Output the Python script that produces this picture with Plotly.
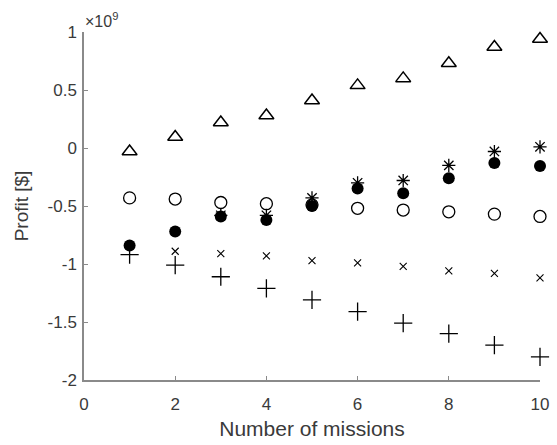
import plotly.graph_objects as go

missions = [1, 2, 3, 4, 5, 6, 7, 8, 9, 10]
# profit values in units of 1e9 $ (None: point hidden in the reference)
triangle = [-0.03, 0.095, 0.22, 0.28, 0.41, 0.54, 0.60, 0.73, 0.87, 0.94]
open_circle = [-0.43, -0.44, -0.47, -0.48, -0.49, -0.52, -0.535, -0.55, -0.57, -0.59]
x_mark = [None, -0.89, -0.91, -0.93, -0.97, -0.99, -1.02, -1.06, -1.08, -1.12]
filled_circle = [-0.84, -0.72, -0.59, -0.62, -0.50, -0.35, -0.39, -0.26, -0.13, -0.155]
asterisk = [None, None, -0.58, -0.58, -0.43, -0.30, -0.28, -0.15, -0.03, 0.01]
plus = [-0.92, -1.01, -1.11, -1.21, -1.31, -1.41, -1.51, -1.60, -1.70, -1.80]

yticks = [-2, -1.5, -1, -0.5, 0, 0.5, 1]
yticktext = ["-2", "-1.5", "-1", "-0.5", "0", "0.5", "1"]
xticks = [0, 2, 4, 6, 8, 10]

fig = go.Figure()
def add(y, symbol, size, lw=1.2):
    fig.add_trace(go.Scatter(x=missions, y=y, mode="markers", cliponaxis=False,
                             marker=dict(symbol=symbol, size=size, color="black",
                                         line=dict(color="black", width=lw)),
                             showlegend=False))

add(triangle, "triangle-up-open", 13, 1.5)
add(open_circle, "circle-open", 12, 1.3)
add(x_mark, "x-thin-open", 7, 1.1)
add(plus, "cross-thin-open", 13, 1.3)
add(asterisk, "asterisk-open", 11, 1.3)
add(filled_circle, "circle", 12, 0)

axcol = "#8a8a8a"
txtcol = "#3a3a3a"
fig.update_layout(
    width=557, height=445,
    margin=dict(l=84, r=17, t=32, b=65),
    plot_bgcolor="white", paper_bgcolor="white",
    font=dict(family="Liberation Sans, Arial, sans-serif", size=17, color=txtcol),
    xaxis=dict(range=[0, 10], tickvals=xticks, showline=True, linecolor=axcol, linewidth=1.5,
               ticks="inside", ticklen=4, tickcolor=axcol, showgrid=False, zeroline=False,
               ticklabelstandoff=8, automargin=False,
               title=dict(text="Number of missions", font=dict(size=21), standoff=8)),
    yaxis=dict(range=[-2, 1], tickvals=yticks, ticktext=yticktext, showline=True,
               linecolor=axcol, linewidth=1.5, ticks="inside", ticklen=4, tickcolor=axcol,
               showgrid=False, zeroline=False, ticklabelstandoff=2, automargin=False,
               title=dict(text="Profit [$]", font=dict(size=19), standoff=14)),
)
fig.add_annotation(x=0, y=1, xref="x", yref="y", text="\u00d710<sup>9</sup>", showarrow=False,
                   xanchor="left", yanchor="bottom", xshift=-1, yshift=0,
                   font=dict(size=16, color=txtcol))
fig.write_html("out.html")
